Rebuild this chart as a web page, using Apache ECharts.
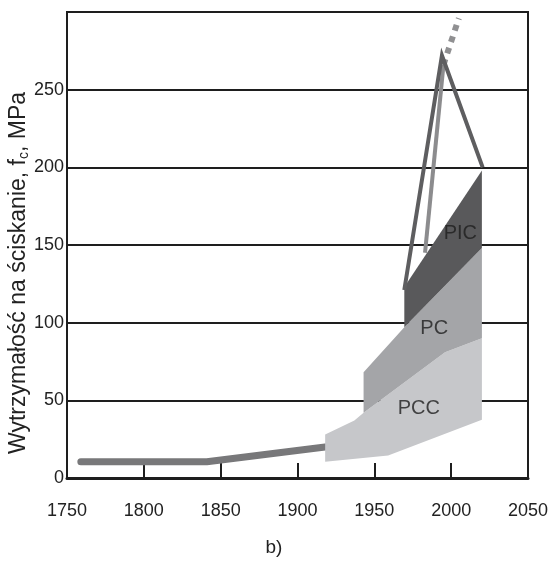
<!DOCTYPE html>
<html><head><meta charset="utf-8">
<script src="https://cdn.jsdelivr.net/npm/echarts@6/dist/echarts.min.js"></script>
<style>html,body{margin:0;padding:0;background:#fff}#c{width:548px;height:567px}</style>
</head><body><div id="c"></div>
<script>
// Data (year, MPa)
const xTicks = [1750, 1800, 1850, 1900, 1950, 2000, 2050];
const yTicks = [0, 50, 100, 150, 200, 250];
const pccTop = [[1918, 28], [1937, 37], [1943, 42], [1996, 81], [2020, 90]];
const pccBottom = [[1918, 10.5], [1959, 14.5], [2020, 37.5]];
const pcTop = [[1943, 68], [1969.5, 97], [2020, 148]];
const pcBottom = [[1943, 42], [1996, 81], [2020, 90]];
const picTop = [[1969.5, 123], [2020, 198]];
const picBottom = [[1969.5, 97], [2020, 148]];
const earlyLine = [[1759, 10.5], [1841, 10.5], [1918, 20]];
const darkLine = [[1969.5, 121], [1994, 272], [2020.5, 200]];
const lightLine = [[1983, 145], [1995, 266]];
const dottedLine = [[1995, 266], [2005, 296]];
const regionLabels = [['PIC', 2006, 157.5], ['PC', 1989, 96.5], ['PCC', 1979, 44.5]];

function band(top, bottom) { return top.concat(bottom.slice().reverse()); }
const polygons = [
  { pts: band(pccTop, pccBottom), color: '#c6c7ca' },
  { pts: band(pcTop, pcBottom), color: '#a4a5a8' },
  { pts: band(picTop, picBottom), color: '#59595b' }
];

const FONT = '"Liberation Sans", Arial, sans-serif';
const chart = echarts.init(document.getElementById('c'), null, { renderer: 'canvas' });
chart.setOption({
  animation: false,
  backgroundColor: '#fff',
  grid: { left: 67, right: 20, top: 12, bottom: 89, show: true, borderColor: '#1e1e1e', borderWidth: 2,
    containLabel: false, outerBoundsMode: 'none' },
  xAxis: {
    type: 'value', min: xTicks[0], max: xTicks[xTicks.length - 1], interval: 50,
    axisLine: { show: true, lineStyle: { color: '#1e1e1e', width: 3 } },
    axisTick: { show: true, inside: true, length: 15, lineStyle: { color: '#1e1e1e', width: 2 } },
    axisLabel: { color: '#222', fontSize: 18, fontFamily: FONT, margin: 24,
      formatter: v => xTicks.indexOf(v) >= 0 ? String(v) : '' },
    splitLine: { show: false }
  },
  yAxis: {
    type: 'value', min: 0, max: 300, interval: 50,
    axisLine: { show: true, lineStyle: { color: '#1e1e1e', width: 2 } },
    axisTick: { show: false },
    axisLabel: { color: '#222', fontSize: 18, fontFamily: FONT, margin: 3,
      formatter: v => yTicks.indexOf(v) >= 0 ? String(v) : '' },
    splitLine: { show: true, lineStyle: { color: '#1e1e1e', width: 2 } }
  },
  graphic: [
    { type: 'text', x: 19, y: 273, rotation: Math.PI / 2,
      style: { text: 'Wytrzymałość na ściskanie, f{s|c}, MPa', align: 'center', verticalAlign: 'middle',
        fontSize: 23, fontFamily: FONT, fill: '#222',
        rich: { s: { fontSize: 14, fontFamily: FONT, fill: '#222', padding: [10, 0, 0, 0] } } } },
    { type: 'text', left: 'center', top: 538,
      style: { text: 'b)', fontSize: 19, fontFamily: FONT, fill: '#222' } }
  ],
  series: [
    {
      type: 'custom', z: 3,
      data: polygons.map((p, i) => i),
      renderItem: (params, api) => {
        const p = polygons[params.dataIndex];
        return { type: 'polygon', shape: { points: p.pts.map(q => api.coord(q)) },
          style: { fill: p.color, stroke: null } };
      }
    },
    { type: 'line', data: earlyLine, symbol: 'none', z: 2,
      lineStyle: { color: '#78787a', width: 7, cap: 'round', join: 'round' } },
    { type: 'line', data: dottedLine, symbol: 'none', z: 4,
      lineStyle: { color: '#909092', width: 6, type: [6, 6] } },
    { type: 'line', data: lightLine, symbol: 'none', z: 5,
      lineStyle: { color: '#8c8c8e', width: 4 } },
    { type: 'line', data: darkLine, symbol: 'none', z: 6,
      lineStyle: { color: '#5e5e60', width: 4, join: 'miter' } },
    { type: 'scatter', z: 7, symbolSize: 0,
      data: regionLabels.map(r => ({ value: [r[1], r[2]], name: r[0] })),
      label: { show: true, position: 'inside', formatter: '{b}', color: '#1e1e1e', fontSize: 20, fontFamily: FONT } }
  ]
});
</script></body></html>
